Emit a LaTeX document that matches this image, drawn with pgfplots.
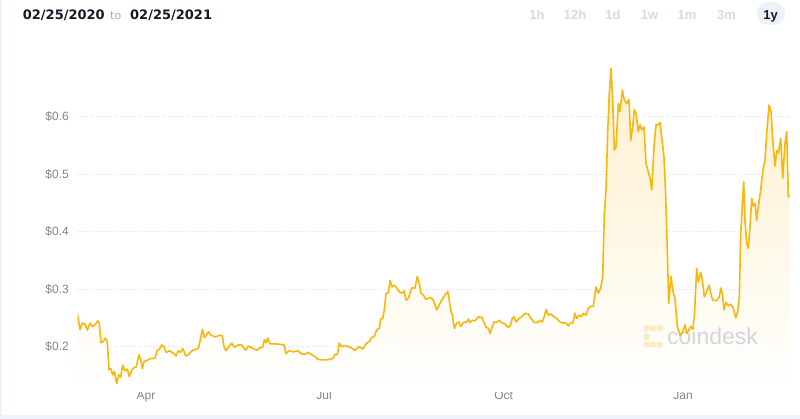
\documentclass[border=0pt]{standalone}
\usepackage{pgfplots}
\pgfplotsset{compat=1.18}
\usepackage{pgfplotstable}
\usepackage{fontspec}
\setmainfont{Liberation Sans}
\newfontfamily\dejavu{DejaVu Sans}

\definecolor{coin}{RGB}{249,182,12}
\definecolor{gridc}{RGB}{214,220,233}
\definecolor{tickc}{RGB}{128,132,145}
\definecolor{btn}{RGB}{214,218,228}
\definecolor{pill}{RGB}{237,241,248}
\definecolor{band}{RGB}{239,243,249}
\definecolor{fillc}{RGB}{254,240,205}
\definecolor{wmgray}{RGB}{210,213,222}
\definecolor{wmyel}{RGB}{252,234,194}
\definecolor{hdr}{RGB}{22,24,40}

% x = horizontal position (Apr 1 ~ 146, Jan 1 ~ 683), y = price in USD
\pgfplotstableread{
px price
77.3 0.258
80 0.230
82.3 0.241
85 0.239
87.3 0.229
90 0.241
92.3 0.235
95 0.238
97.7 0.245
99.3 0.241
101 0.207
103.3 0.209
105.3 0.215
107.3 0.209
109 0.160
110.7 0.162
112.7 0.151
114.3 0.157
116.7 0.136
118.7 0.151
120.7 0.147
122.7 0.168
125 0.158
127.3 0.161
129.3 0.148
131.7 0.159
134 0.164
136 0.164
139 0.186
140.7 0.177
142.3 0.162
144 0.174
146.7 0.176
150 0.179
155 0.180
157.3 0.194
159.3 0.195
161.7 0.203
164 0.200
166 0.190
169.3 0.193
173.3 0.189
176 0.184
178.3 0.193
180.7 0.190
182.7 0.197
185.7 0.184
188.3 0.186
190.7 0.191
193.3 0.194
195 0.195
198.3 0.197
200.7 0.215
202.3 0.230
204.3 0.216
206 0.219
208.3 0.226
211 0.220
215 0.217
220 0.220
222.3 0.219
224 0.200
226 0.193
228.3 0.199
231.7 0.206
234.3 0.199
238.3 0.203
241.7 0.203
245.7 0.194
248.3 0.201
253.3 0.197
256.7 0.194
260 0.198
262.7 0.199
264.3 0.212
266 0.207
267.7 0.215
270 0.205
275 0.205
280 0.204
284.3 0.203
285.7 0.188
289 0.193
293.3 0.191
297.7 0.193
301.7 0.187
305 0.187
308.3 0.190
311.7 0.186
315 0.183
317.7 0.178
321.7 0.177
325 0.177
330 0.178
333.3 0.180
335 0.187
337.3 0.186
339.3 0.206
341.7 0.200
345 0.202
350 0.199
355 0.194
359.3 0.200
362.7 0.196
366 0.205
369.3 0.209
371.7 0.216
374 0.217
376.7 0.229
379.3 0.232
380.7 0.248
382.7 0.249
384.3 0.264
386 0.293
388.3 0.294
390 0.315
392 0.304
394 0.307
396 0.304
398.3 0.297
401.7 0.293
404 0.297
406 0.281
408.3 0.284
411.7 0.302
415 0.302
417.3 0.322
419.3 0.310
421 0.293
423.3 0.290
426 0.282
430 0.286
433.3 0.281
436.7 0.264
439.3 0.273
441.7 0.281
445 0.290
447.7 0.296
449 0.284
451 0.261
452.3 0.255
454.3 0.232
456.7 0.241
459 0.243
460.7 0.235
463.3 0.242
466.7 0.243
468.3 0.248
470 0.242
472.3 0.246
475 0.245
478.3 0.252
481.7 0.251
484.3 0.241
486 0.234
488.3 0.232
490 0.223
491.7 0.232
494 0.243
496.7 0.242
499 0.246
501.7 0.242
505 0.239
507.7 0.234
510 0.235
512.3 0.249
514 0.252
516 0.243
519 0.249
522.3 0.253
525 0.258
528.3 0.257
531 0.249
534.3 0.242
537.7 0.242
540 0.246
542.3 0.243
544.3 0.253
546 0.265
548.3 0.255
551 0.257
553.3 0.253
556.7 0.249
560 0.243
563.3 0.241
565.7 0.242
568.3 0.236
570 0.241
572.7 0.241
575 0.258
576.7 0.249
579.3 0.255
581.7 0.252
583.3 0.258
586 0.255
588.3 0.267
590.7 0.270
593.3 0.270
596 0.304
598.3 0.293
600.7 0.302
602.7 0.322
604.3 0.432
606 0.473
607.7 0.575
609.3 0.641
611 0.684
612.7 0.629
614.3 0.542
616 0.548
618.3 0.623
620 0.609
622.3 0.646
624.3 0.629
626.7 0.623
629 0.630
630.7 0.559
632.7 0.583
634.3 0.612
636 0.606
638.3 0.574
640 0.586
641.7 0.577
644 0.582
646 0.519
648.3 0.504
650 0.493
651.7 0.473
654 0.548
656 0.586
658.3 0.586
660 0.590
661.7 0.565
664 0.530
665.7 0.461
667.3 0.368
668.7 0.275
671 0.322
673.3 0.293
675 0.284
677.3 0.235
680 0.220
682.7 0.226
685 0.238
686.7 0.223
689 0.230
690.7 0.235
692.7 0.230
694.3 0.252
696.7 0.336
698.3 0.313
700.7 0.329
702.3 0.317
704.3 0.287
706.7 0.296
709 0.307
710.7 0.293
712.7 0.281
716.7 0.280
719.3 0.287
720.7 0.302
722.3 0.293
724 0.264
726 0.277
728.3 0.271
730.7 0.274
733.3 0.267
735.7 0.250
737.7 0.261
739.3 0.287
740.7 0.397
742.3 0.446
743.7 0.487
745 0.420
746.7 0.380
748.3 0.371
750 0.409
751.7 0.458
753.3 0.445
755 0.449
756.7 0.420
758.3 0.444
760.7 0.473
762.7 0.504
765 0.525
766.7 0.571
769 0.620
771 0.609
772.7 0.559
775 0.514
776.7 0.541
778.3 0.537
780.7 0.562
782.7 0.493
785 0.554
786.7 0.574
788.3 0.461
790 0.461
}\price

\begin{document}
\begin{tikzpicture}
\path[use as bounding box, fill=white] (0,0) rectangle (800bp,419bp);
\fill[band] (0,0) rectangle (800bp,4bp);
\fill[band] (0,0) rectangle (2bp,419bp);

% header: date range
\node[anchor=base west, inner sep=0, text=hdr, font=\fontsize{13bp}{15bp}\selectfont\dejavu\bfseries] at (22.7bp,399bp) {02/25/2020};
\node[anchor=base west, inner sep=0, text=btn!80!black, font=\fontsize{11bp}{13bp}\selectfont\dejavu] at (110bp,399bp) {to};
\node[anchor=base west, inner sep=0, text=hdr, font=\fontsize{13bp}{15bp}\selectfont\dejavu\bfseries] at (130bp,399bp) {02/25/2021};

% header: time range buttons
\fill[pill, rounded corners=11bp] (757bp,394bp) rectangle (785bp,417bp);
\foreach \bx/\bt in {537/1h, 575/12h, 613/1d, 649.5/1w, 687/1m, 726.5/3m}
  \node[anchor=base, inner sep=0, text=btn, font=\fontsize{13bp}{15bp}\selectfont\bfseries] at (\bx bp,399bp) {\bt};
\node[anchor=base, inner sep=0, text=hdr, font=\fontsize{13bp}{15bp}\selectfont\bfseries] at (770.5bp,399bp) {1y};

\begin{axis}[
  at={(77.6bp,27bp)}, anchor=south west, scale only axis,
  width=712.4bp, height=342bp,
  xmin=77.6, xmax=790, ymin=0.1212, ymax=0.716,
  axis line style={draw=none}, major tick length=0pt,
  no marks,
  ytick={0.2,0.3,0.4,0.5,0.6},
  yticklabels={\$0.2,\$0.3,\$0.4,\$0.5,\$0.6},
  xtick={146,324,503.6,683},
  xticklabels={Apr,Jul,Oct,Jan},
  ymajorgrids,
  grid style={gridc, line width=0.8bp, dash pattern=on 1bp off 2bp},
  tick label style={font=\fontsize{12bp}{14bp}\selectfont, text=tickc},
  yticklabel style={anchor=east, inner sep=0pt, xshift=-8.6bp},
  xticklabel style={anchor=base, inner sep=0pt, yshift=-7.5bp},
]
\addplot[draw=none, top color=fillc, bottom color=white] table[x=px, y=price] {\price} \closedcycle;
% watermark, between the area and the line
\fill[wmyel, rounded corners=1.5bp] (axis cs:643.5,0.2265) rectangle (axis cs:649.5,0.2369);
\fill[wmyel, rounded corners=1.5bp] (axis cs:650,0.2265) rectangle (axis cs:656,0.2369);
\fill[wmyel, rounded corners=1.5bp] (axis cs:656.5,0.2265) rectangle (axis cs:662.5,0.2369);
\fill[wmyel, rounded corners=1.5bp] (axis cs:643.5,0.2125) rectangle (axis cs:649.5,0.2229);
\fill[wmyel, rounded corners=1.5bp] (axis cs:643.5,0.1986) rectangle (axis cs:649.5,0.2090);
\fill[wmyel, rounded corners=1.5bp] (axis cs:650,0.1986) rectangle (axis cs:656,0.2090);
\fill[wmyel, rounded corners=1.5bp] (axis cs:656.5,0.1986) rectangle (axis cs:662.5,0.2090);
\node[anchor=base west, inner sep=0, text=wmgray, font=\fontsize{23bp}{26bp}\selectfont] at (axis cs:667,0.2030) {coindesk};
\addplot[coin, line width=1.6bp, line join=round] table[x=px, y=price] {\price};
\end{axis}
\end{tikzpicture}
\end{document}
